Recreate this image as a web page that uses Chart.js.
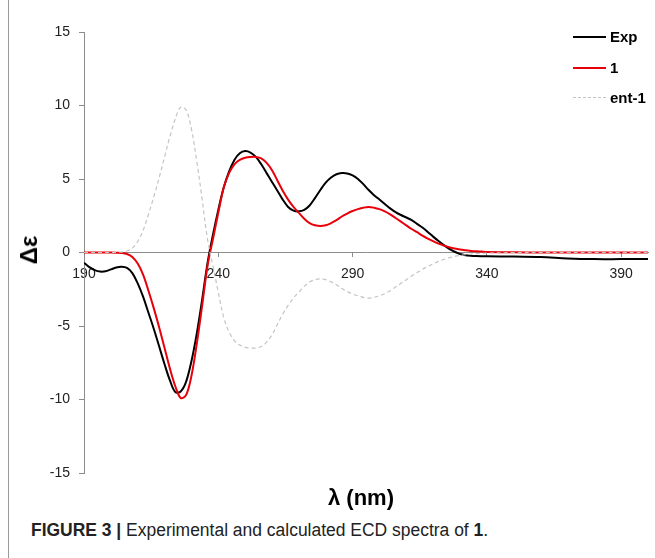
<!DOCTYPE html>
<html>
<head>
<meta charset="utf-8">
<script src="https://cdn.jsdelivr.net/npm/chart.js@4.4.1/dist/chart.umd.min.js"></script>
<style>
  body { margin:0; background:#fff; }
  #wrap { position:relative; width:655px; height:558px; overflow:hidden; font-family:"Liberation Sans", Arial, sans-serif; }
  #frame { position:absolute; left:8px; top:0; width:1px; height:558px; background:#9a9a9a; }
  #c { position:absolute; left:0; top:0; }
  #ytitle { position:absolute; left:29px; top:250px; transform:translate(-50%,-50%) rotate(-90deg);
            font-weight:bold; font-size:24px; color:#000; white-space:nowrap; }
  #xtitle { position:absolute; left:361px; top:498px; transform:translate(-50%,-50%);
            font-weight:bold; font-size:22px; color:#000; white-space:nowrap; }
  #legend { position:absolute; left:573px; top:0; }
  .lg { position:absolute; left:0; height:20px; width:90px; }
  .lg .sw { position:absolute; left:0; top:9px; width:33px; height:0; }
  .lg span { position:absolute; left:37px; top:0; font-weight:bold; font-size:15px; line-height:20px; color:#000; }
  #caption { position:absolute; left:31px; top:520px; font-family:"Liberation Sans", Arial, sans-serif;
             font-size:18px; color:#222; white-space:nowrap; transform:scaleX(0.97); transform-origin:0 50%; }
</style>
</head>
<body>
<div id="wrap">
  <div id="frame"></div>
  <canvas id="c" width="655" height="500"></canvas>
  <div id="ytitle">&Delta;&epsilon;</div>
  <div id="xtitle">&lambda; (nm)</div>
  <div id="legend"></div>
  <div id="caption"><b>FIGURE 3 |</b> Experimental and calculated ECD spectra of <b>1</b>.</div>
</div>
<script>
// wavelength (nm)
var nm = [190,192,194,196,198,200,202,204,206,208,210,212,214,216,218,220,222,224,226,228,
          230,232,234,236,238,240,242,244,246,248,250,252,254,256,258,260,262,264,266,268,
          270,272,274,276,278,280,282,284,286,288,290,292,294,296,298,300,302,304,306,308,
          310,312,314,316,318,320,322,324,326,328,330,332,334,336,338,340,350,360,370,380,390,400];

// experimental spectrum
var exp = [-0.7,-1.0,-1.2,-1.3,-1.28,-1.15,-1.02,-0.97,-1.05,-1.4,-2.1,-3.0,-4.1,-5.2,-6.4,-7.6,-8.7,-9.5,-9.45,-8.8,
           -7.4,-5.5,-3.2,-0.7,1.2,2.9,4.4,5.5,6.3,6.75,6.9,6.8,6.5,6.0,5.4,4.8,4.2,3.6,3.1,2.85,
           2.8,2.9,3.2,3.7,4.25,4.75,5.1,5.32,5.4,5.38,5.25,5.0,4.65,4.25,3.9,3.6,3.3,3.0,2.75,2.55,
           2.38,2.2,1.95,1.7,1.4,1.08,0.78,0.5,0.25,0.05,-0.1,-0.18,-0.22,-0.24,-0.25,-0.25,-0.28,-0.3,-0.4,-0.45,-0.45,-0.45];

// calculated for 1
var calc1 = [0,0,0,0,0,0,-0.01,-0.03,-0.1,-0.3,-0.75,-1.5,-2.6,-3.8,-5.1,-6.5,-7.9,-9.1,-9.9,-9.7,
             -8.4,-6.2,-3.6,-0.9,0.9,2.7,4.4,5.4,6.0,6.3,6.45,6.5,6.5,6.4,6.1,5.6,4.9,4.2,3.6,3.1,
             2.7,2.3,2.0,1.85,1.8,1.85,2.0,2.2,2.45,2.65,2.82,2.95,3.05,3.1,3.05,2.95,2.8,2.6,2.35,2.1,
             1.85,1.6,1.38,1.15,0.95,0.77,0.6,0.47,0.36,0.27,0.2,0.15,0.11,0.08,0.06,0.04,0.01,0,0,0,0,0];

// calculated for ent-1
var calcEnt = [0,0,0,0,0,0,0.01,0.03,0.1,0.3,0.75,1.5,2.6,3.8,5.1,6.5,7.9,9.1,9.9,9.7,
               8.4,6.2,3.6,0.9,-0.9,-2.7,-4.4,-5.4,-6.0,-6.3,-6.45,-6.5,-6.5,-6.4,-6.1,-5.6,-4.9,-4.2,-3.6,-3.1,
               -2.7,-2.3,-2.0,-1.85,-1.8,-1.85,-2.0,-2.2,-2.45,-2.65,-2.82,-2.95,-3.05,-3.1,-3.05,-2.95,-2.8,-2.6,-2.35,-2.1,
               -1.85,-1.6,-1.38,-1.15,-0.95,-0.77,-0.6,-0.47,-0.36,-0.27,-0.2,-0.15,-0.11,-0.08,-0.06,-0.04,-0.01,0,0,0,0,0];

var xTicks = [190,240,290,340,390];
var yTicks = [-15,-10,-5,0,5,10,15];
var labels = ['Exp','1','ent-1'];

function pts(vals) {
    return vals.map(function(v, i){ return {x:nm[i], y:v}; });
}

var axisGray = '#8c8c8c';
var tickFont = {family:'Liberation Sans', size:14};

var series = [
    {label:labels[0], data:pts(exp),     borderColor:'#000000', borderWidth:2,   order:3},
    {label:labels[1], data:pts(calc1),   borderColor:'#e8000b', borderWidth:2,   order:2},
    {label:labels[2], data:pts(calcEnt), borderColor:'#c4c4c4', borderWidth:1.2, borderDash:[4,3], order:1}
];
series.forEach(function(s){ s.pointRadius = 0; s.tension = 0.35; s.fill = false; });

new Chart(document.getElementById('c'), {
    type:'line',
    data:{ datasets:series },
    options:{
        responsive:false, animation:false, devicePixelRatio:1,
        layout:{ padding:{left:0, top:32, right:7, bottom:27} },
        plugins:{ legend:{display:false}, tooltip:{enabled:false} },
        scales:{
            x:{ type:'linear', min:190, max:400, position:{y:0},
                afterBuildTicks:function(s){ s.ticks = xTicks.map(function(v){return {value:v};}); },
                grid:{drawOnChartArea:false, drawTicks:true, tickLength:4, color:axisGray},
                border:{color:axisGray, width:1},
                ticks:{font:tickFont, color:'#222', padding:9, maxRotation:0, autoSkip:false} },
            y:{ type:'linear', min:-15, max:15,
                afterBuildTicks:function(s){ s.ticks = yTicks.map(function(v){return {value:v};}); },
                afterFit:function(s){ s.width = 84; },
                grid:{drawOnChartArea:false, drawTicks:true, tickLength:5, color:axisGray},
                border:{color:axisGray, width:1},
                ticks:{font:tickFont, color:'#222', padding:9} }
        }
    }
});

// legend
var lg = document.getElementById('legend');
var rowsY = [27, 58, 88];
series.forEach(function(s, i){
    var row = document.createElement('div');
    row.className = 'lg';
    row.style.top = rowsY[i] + 'px';
    var sw = document.createElement('div');
    sw.className = 'sw';
    sw.style.borderTop = (s.borderDash ? '1.5px dashed ' : '2px solid ') + s.borderColor;
    var t = document.createElement('span');
    t.textContent = s.label;
    row.appendChild(sw); row.appendChild(t);
    lg.appendChild(row);
});
</script>
</body>
</html>
